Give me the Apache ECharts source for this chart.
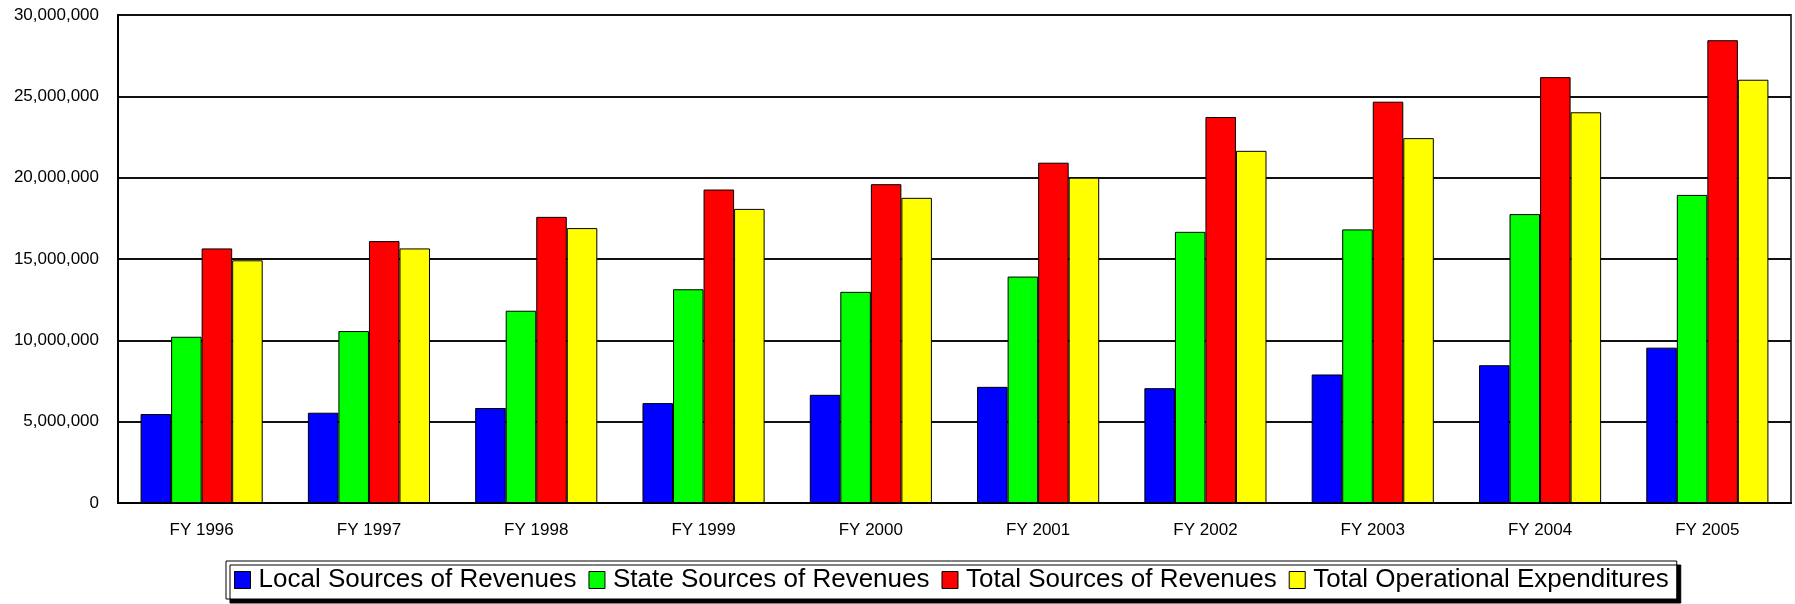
<!DOCTYPE html>
<html>
<head>
<meta charset="utf-8">
<script src="https://cdn.jsdelivr.net/npm/echarts@6/dist/echarts.min.js"></script>
<style>
  html, body { margin: 0; padding: 0; background: #fff; }
  #chart { width: 1795px; height: 604px; }
</style>
</head>
<body>
<div id="chart"></div>
<script>
// fiscal years on the x axis
const years = ['FY 1996', 'FY 1997', 'FY 1998', 'FY 1999', 'FY 2000',
  'FY 2001', 'FY 2002', 'FY 2003', 'FY 2004', 'FY 2005'];

// values
const localRevenue = [5470000, 5550000, 5840000, 6140000, 6650000, 7140000, 7060000, 7900000, 8470000, 9550000];
const stateRevenue = [10220000, 10570000, 11820000, 13140000, 12980000, 13920000, 16670000, 16820000, 17760000, 18940000];
const totalRevenue = [15650000, 16100000, 17590000, 19270000, 19600000, 20920000, 23730000, 24670000, 26180000, 28450000];
const totalExpenditure = [14920000, 15650000, 16900000, 18080000, 18760000, 20000000, 21650000, 22430000, 24020000, 26020000];

const seriesNames = ['Local Sources of Revenues', 'State Sources of Revenues',
  'Total Sources of Revenues', 'Total Operational Expenditures'];
const seriesColors = ['#0000ff', '#00ff00', '#ff0000', '#ffff00'];
const seriesData = [localRevenue, stateRevenue, totalRevenue, totalExpenditure];

const chart = echarts.init(document.getElementById('chart'));

const option = {
  animation: false,
  backgroundColor: '#fff',
  textStyle: { fontFamily: 'Liberation Sans, Arial, sans-serif' },
  grid: {
    left: 118, right: 4, top: 15, bottom: 101,
    show: true, borderColor: '#444', borderWidth: 2
  },
  legend: {
    left: 226,
    top: 561,
    padding: [6, 8, 6, 8],
    itemWidth: 16,
    itemHeight: 17,
    itemGap: 12,
    icon: 'rect',
    backgroundColor: '#fff',
    borderColor: '#000',
    borderWidth: 1,
    shadowColor: '#000',
    shadowBlur: 0,
    shadowOffsetX: 4,
    shadowOffsetY: 4,
    textStyle: {
      fontSize: 26,
      color: '#000',
      padding: [0, 0, 0, 3]
    },
    itemStyle: { borderColor: '#000', borderWidth: 1 },
    data: seriesNames
  },
  xAxis: {
    type: 'category',
    data: years,
    axisLine: { lineStyle: { color: '#000', width: 2 } },
    axisTick: { inside: true, length: 5, lineStyle: { color: '#000', width: 1 } },
    axisLabel: { color: '#000', fontSize: 17, margin: 19 }
  },
  yAxis: {
    type: 'value',
    min: 0,
    max: 30000000,
    interval: 5000000,
    axisLine: { show: true, lineStyle: { color: '#000', width: 2 } },
    axisTick: { show: false },
    axisLabel: {
      color: '#000',
      fontSize: 17,
      margin: 19,
      formatter: v => v.toLocaleString('en-US')
    },
    splitLine: { lineStyle: { color: '#111', width: 2 } }
  },
  series: seriesNames.map((name, i) => ({
    name: name,
    type: 'bar',
    data: seriesData[i],
    barGap: '0%',
    barCategoryGap: '27%',
    itemStyle: { color: seriesColors[i], borderColor: '#000', borderWidth: 1 }
  }))
};

chart.setOption(option);
</script>
</body>
</html>
